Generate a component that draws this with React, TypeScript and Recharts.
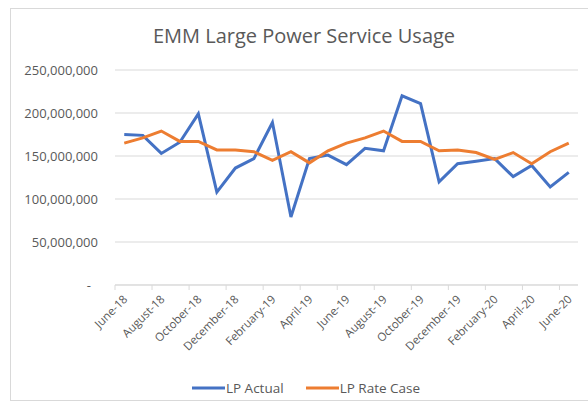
import React from "react";
import { LineChart, Line, XAxis, YAxis, CartesianGrid, Legend } from "recharts";

// monthly usage, millions of kWh
const months = [
  "June-18", "July-18", "August-18", "September-18", "October-18", "November-18",
  "December-18", "January-19", "February-19", "March-19", "April-19", "May-19",
  "June-19", "July-19", "August-19", "September-19", "October-19", "November-19",
  "December-19", "January-20", "February-20", "March-20", "April-20", "May-20",
  "June-20",
];
const lpActual = [
  175, 174, 153, 166, 199, 108, 136, 147, 189, 79, 147, 151, 140,
  159, 156, 220, 211, 120, 141, 144, 147, 126, 139, 114, 131,
];
const lpRateCase = [
  165, 171, 179, 167, 167, 157, 157, 155, 145, 155, 142, 156, 165,
  171, 179, 167, 167, 156, 157, 154, 146, 154, 141, 155, 165,
];
const yTicks = [0, 50e6, 100e6, 150e6, 200e6, 250e6];

const data = months.map((m, i) => ({
  month: m,
  actual: lpActual[i] * 1e6,
  rate: lpRateCase[i] * 1e6,
}));

const FONT = "'Open Sans', sans-serif";
const GREY = "#595959";
const PLOT_W = 463;
const HALF_STEP = PLOT_W / months.length / 2;

function XTick({ x, y, payload }: any) {
  const left = x - HALF_STEP;
  const tx = x + 4;
  const ty = y + 15;
  return (
    <g>
      <line x1={left} y1={y} x2={left} y2={y + 5} stroke="#d9d9d9" />
      <text
        x={tx}
        y={ty}
        textAnchor="end"
        fontSize={11.5}
        fill={GREY}
        fontFamily={FONT}
        transform={`rotate(-45, ${tx}, ${ty})`}
      >
        {payload.value}
      </text>
    </g>
  );
}

function YTick({ x, y, payload }: any) {
  const zero = payload.value === 0;
  return (
    <text
      x={zero ? x - 7 : x}
      y={y}
      dy="0.35em"
      textAnchor="end"
      fontSize={13}
      fill={GREY}
      fontFamily={FONT}
    >
      {zero ? "-" : payload.value.toLocaleString("en-US")}
    </text>
  );
}

function LegendContent({ payload }: any) {
  return (
    <div style={{ display: "flex", justifyContent: "center", gap: 22 }}>
      {(payload || []).map((p: any) => (
        <div key={p.value} style={{ display: "flex", alignItems: "center" }}>
          <svg width={33} height={6}>
            <line x1={0} y1={3} x2={33} y2={3} stroke={p.color} strokeWidth={3} />
          </svg>
          <span style={{ fontSize: 13.5, color: GREY, fontFamily: FONT, marginLeft: 1 }}>
            {p.value}
          </span>
        </div>
      ))}
    </div>
  );
}

export default function App() {
  return (
    <div
      style={{
        position: "absolute",
        left: 0,
        top: 0,
        width: 588,
        height: 411,
        overflow: "hidden",
        background: "#fff",
      }}
    >
      <div
        style={{
          position: "absolute",
          left: 10,
          top: 8,
          width: 600,
          height: 393,
          border: "1px solid #d9d9d9",
          boxSizing: "border-box",
        }}
      />
      <div
        style={{
          position: "absolute",
          left: 0,
          top: 22,
          width: 608,
          textAlign: "center",
          fontFamily: FONT,
          fontSize: 20,
          color: GREY,
        }}
      >
        EMM Large Power Service Usage
      </div>
      <LineChart
        width={588}
        height={411}
        data={data}
        margin={{ top: 70, right: 10, bottom: 0, left: 10 }}
      >
        <CartesianGrid vertical={false} stroke="#d9d9d9" />
        <XAxis
          dataKey="month"
          interval={1}
          height={126}
          padding={{ left: HALF_STEP, right: HALF_STEP }}
          axisLine={{ stroke: "#d9d9d9" }}
          tickLine={false}
          tickSize={0}
          tickMargin={0}
          tick={<XTick />}
        />
        <YAxis
          width={105}
          domain={[0, 250e6]}
          ticks={yTicks}
          axisLine={false}
          tickLine={false}
          tickSize={0}
          tickMargin={17}
          tick={<YTick />}
        />
        <Legend
          layout="horizontal"
          verticalAlign="middle"
          align="center"
          wrapperStyle={{ left: 0, top: 379, width: 612 }}
          content={<LegendContent />}
        />
        <Line
          dataKey="actual"
          name="LP Actual"
          stroke="#4472c4"
          strokeWidth={3}
          dot={false}
          isAnimationActive={false}
        />
        <Line
          dataKey="rate"
          name="LP Rate Case"
          stroke="#ed7d31"
          strokeWidth={3}
          dot={false}
          isAnimationActive={false}
        />
      </LineChart>
    </div>
  );
}
